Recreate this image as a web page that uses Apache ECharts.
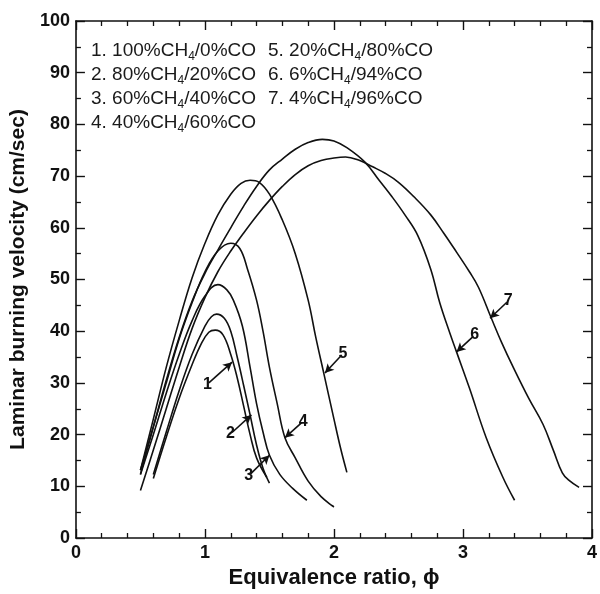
<!DOCTYPE html>
<html><head><meta charset="utf-8">
<script src="https://cdn.jsdelivr.net/npm/echarts@6/dist/echarts.min.js"></script>
<style>html,body{margin:0;padding:0;background:#fff}#c{width:600px;height:594px}</style>
</head><body><div id="c"></div>
<script>
// ---- data (phi, laminar burning velocity cm/s) ----
const curve1 = [[0.60,11.5],[0.70,19.5],[0.80,27],[0.90,33.5],[0.97,37.5],[1.03,39.8],[1.08,40.2],[1.14,39.3],[1.20,35.5],[1.25,31],[1.30,25.5],[1.35,20],[1.40,15.5],[1.48,11.7]];
const curve2 = [[0.60,12.3],[0.70,20.5],[0.80,28.5],[0.90,35.5],[1.00,41],[1.05,42.8],[1.09,43.3],[1.15,42.5],[1.20,40],[1.25,35],[1.30,29.5],[1.35,23.8],[1.40,18],[1.45,13.5],[1.50,10.6]];
const curve3 = [[0.50,12.3],[0.60,20],[0.70,28],[0.80,35.5],[0.90,42],[1.00,46.8],[1.10,49],[1.17,48],[1.22,46],[1.29,41],[1.35,33],[1.40,26],[1.45,20.5],[1.50,16],[1.58,12.3],[1.68,9.6],[1.79,7.3]];
const curve4 = [[0.50,13.1],[0.60,21.5],[0.70,30],[0.80,38.5],[0.90,45.5],[1.00,51.5],[1.10,55.5],[1.20,57],[1.27,56],[1.33,52],[1.40,46],[1.45,40],[1.50,33],[1.56,26],[1.62,19.4],[1.70,15.5],[1.80,11],[1.90,8],[2.00,6]];
const curve5 = [[0.50,13.1],[0.60,23],[0.70,33],[0.80,42],[0.90,50.3],[1.00,57],[1.10,62.5],[1.20,66.5],[1.28,68.6],[1.35,69.2],[1.42,68.8],[1.50,66.5],[1.60,61.5],[1.70,55],[1.80,46],[1.86,38.7],[1.92,32],[2.00,23],[2.05,17.5],[2.10,12.7]];
const curve6 = [[0.50,12.3],[0.60,21.5],[0.70,30.5],[0.80,38.8],[0.90,45.8],[1.00,51.2],[1.10,55.7],[1.20,60],[1.30,64.2],[1.40,68],[1.50,71.2],[1.60,73.3],[1.70,75.2],[1.80,76.5],[1.91,77.1],[2.00,76.8],[2.10,75.5],[2.24,72.7],[2.35,69.2],[2.45,66],[2.55,62.5],[2.65,58.5],[2.75,52],[2.82,45.5],[2.90,39.5],[2.95,36],[3.05,29],[3.18,19.4],[3.31,11.7],[3.40,7.3]];
const curve7 = [[0.50,9.2],[0.60,17],[0.70,25],[0.80,33],[0.90,40.5],[1.00,46.5],[1.10,51.5],[1.20,55.5],[1.30,59],[1.40,62.3],[1.50,65.3],[1.60,68],[1.70,70.3],[1.80,72],[1.90,73],[2.00,73.5],[2.09,73.7],[2.20,73],[2.30,71.8],[2.40,70.5],[2.50,68.8],[2.62,66],[2.75,62.5],[2.85,59],[2.95,55.3],[3.05,51.5],[3.12,48.5],[3.22,42.5],[3.30,37.8],[3.39,33],[3.51,27],[3.62,22],[3.70,17],[3.77,12.6],[3.82,11.2],[3.90,9.8]];
const curves = [curve1, curve2, curve3, curve4, curve5, curve6, curve7];

const legendLabels = ['1. 100%CH4/0%CO','2. 80%CH4/20%CO','3. 60%CH4/40%CO','4. 40%CH4/60%CO','5. 20%CH4/80%CO','6. 6%CH4/94%CO','7. 4%CH4/96%CO'];
const curveTags = ['1','2','3','4','5','6','7'];
// annotation arrows: [label-end point, arrow tip] in data coords
const arrowFrom = [[1.03,30.0],[1.21,20.4],[1.35,12.3],[1.75,22.3],[2.06,35.4],[3.08,39.0],[3.34,45.6]];
const arrowTo   = [[1.21,34.0],[1.36,23.8],[1.50,16.0],[1.62,19.4],[1.93,31.9],[2.95,36.0],[3.21,42.5]];

const xTitle = 'Equivalence ratio, \u03d5';
const yTitle = 'Laminar burning velocity (cm/sec)';

const FONT = '"Liberation Sans", Arial, sans-serif';
const chart = echarts.init(document.getElementById('c'));

function richLabel(s){
  const p = s.split('CH4');
  return '{n|' + p[0] + 'CH}{s|4}{n|' + p[1] + '}';
}
const legendGraphics = legendLabels.map((s,i)=>{
  const col = i < 4 ? 0 : 1;
  const row = i < 4 ? i : i - 4;
  return {
    type:'text', left: col===0 ? 91 : 268, top: 41 + row*24, silent:true,
    style:{ text: richLabel(s), fill:'#1a1a1a', font: '19px ' + FONT,
      rich:{ n:{fontSize:19, fontFamily:FONT, fill:'#1a1a1a', lineHeight:22, verticalAlign:'bottom'},
             s:{fontSize:12, fontFamily:FONT, fill:'#1a1a1a', lineHeight:22, verticalAlign:'bottom', padding:[0,0,-3,0]} } }
  };
});

const axisLine = {show:true, onZero:false, lineStyle:{color:'#111', width:1.6}};
const tick = {show:true, inside:true, length:9, lineStyle:{color:'#111', width:1.4}};
const series = curves.map((c,i)=>({
  type:'line', data:c, smooth:0.4, symbol:'none', xAxisIndex:0, yAxisIndex:0,
  lineStyle:{color:'#111', width:1.6}, z:3,
  markLine:{
    silent:true, symbol:['none','arrow'], symbolSize:[7,9], animation:false,
    lineStyle:{color:'#111', width:1.6, type:'solid'},
    label:{show:true, position:'start', formatter: curveTags[i], color:'#111', fontWeight:'bold', fontSize:16, fontFamily:FONT, distance:2},
    data:[[{coord:arrowFrom[i]},{coord:arrowTo[i]}]]
  }
}));

chart.setOption({
  animation:false,
  backgroundColor:'#fff',
  grid:{left:73, right:3, top:21, bottom:53, containLabel:false},
  xAxis:[
    {type:'value', min:0, max:4, interval:1, position:'bottom',
     axisLine, splitLine:{show:false}, axisTick:tick,
     minorTick:{show:true, splitNumber:5, length:5, lineStyle:{color:'#111', width:1.3}},
     axisLabel:{color:'#111', fontWeight:'bold', fontSize:18, fontFamily:FONT, margin:6},
     name:xTitle, nameLocation:'middle', nameGap:29,
     nameTextStyle:{color:'#111', fontWeight:'bold', fontSize:22, fontFamily:FONT}},
    {type:'value', min:0, max:4, interval:1, position:'top',
     axisLine, splitLine:{show:false}, axisLabel:{show:false}, axisTick:tick,
     minorTick:{show:true, splitNumber:5, length:5, lineStyle:{color:'#111', width:1.3}}}
  ],
  yAxis:[
    {type:'value', min:0, max:100, interval:10, position:'left',
     axisLine, splitLine:{show:false}, axisTick:tick,
     minorTick:{show:true, splitNumber:2, length:5, lineStyle:{color:'#111', width:1.3}},
     axisLabel:{color:'#111', fontWeight:'bold', fontSize:18, fontFamily:FONT, margin:6},
     name:yTitle, nameLocation:'middle', nameGap:42,
     nameTextStyle:{color:'#111', fontWeight:'bold', fontSize:21, fontFamily:FONT}},
    {type:'value', min:0, max:100, interval:10, position:'right',
     axisLine, splitLine:{show:false}, axisLabel:{show:false}, axisTick:tick,
     minorTick:{show:true, splitNumber:2, length:5, lineStyle:{color:'#111', width:1.3}}}
  ],
  graphic: legendGraphics,
  series
});
</script></body></html>
